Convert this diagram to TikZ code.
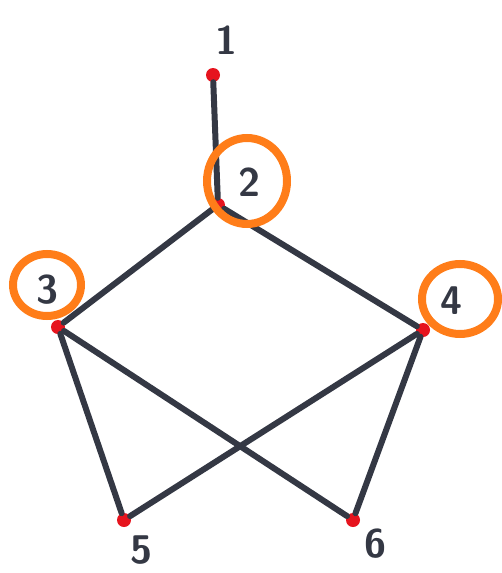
\documentclass[tikz,border=0pt]{standalone}
\usetikzlibrary{shapes.geometric}

\definecolor{ink}{RGB}{52,56,68}
\definecolor{dotred}{RGB}{230,20,30}
\definecolor{marker}{RGB}{255,125,25}

\tikzset{
  vert/.style={circle, fill=dotred, inner sep=0pt, minimum size=14pt},
  edge/.style={ink, line width=6pt, line cap=round},
  ring/.style={ellipse, draw=marker, line width=8pt, inner sep=0pt},
  num/.style={ink, font=\sffamily\bfseries\fontsize{40}{40}\selectfont, inner sep=0pt}
}

\begin{document}
\begin{tikzpicture}[x=1pt, y=-1pt]

    % 画布大小
    \useasboundingbox (0,0) rectangle (502,573);

    % 画顶点
    \node[vert] (v1) at (213,75) {};
    \node[vert] (v2) at (218,205) {};
    \node[vert] (v3) at (58,327) {};
    \node[vert] (v4) at (423,330) {};
    \node[vert] (v5) at (124,520) {};
    \node[vert] (v6) at (353,520) {};

    % 画边
    \draw[edge] (v1) -- (v2);
    \draw[edge] (v2) -- (v3);
    \draw[edge] (v2) -- (v4);
    \draw[edge] (v3) -- (v5);
    \draw[edge] (v3) -- (v6);
    \draw[edge] (v4) -- (v5);
    \draw[edge] (v4) -- (v6);

    % 画圈
    \node[ring, minimum width=80pt, minimum height=86pt] (r2) at (247,181) {};
    \node[ring, minimum width=68pt, minimum height=62pt] (r3) at (47,285) {};
    \node[ring, minimum width=76pt, minimum height=70pt] (r4) at (460,299) {};

    % 插入文字
    \node[num] (n1) at (226,40) {1};
    \node[num] (n2) at (249,182) {2};
    \node[num] (n3) at (47,290) {3};
    \node[num] (n4) at (451,301) {4};
    \node[num] (n5) at (141,550) {5};
    \node[num] (n6) at (375,544) {6};

  \end{tikzpicture}
\end{document}
